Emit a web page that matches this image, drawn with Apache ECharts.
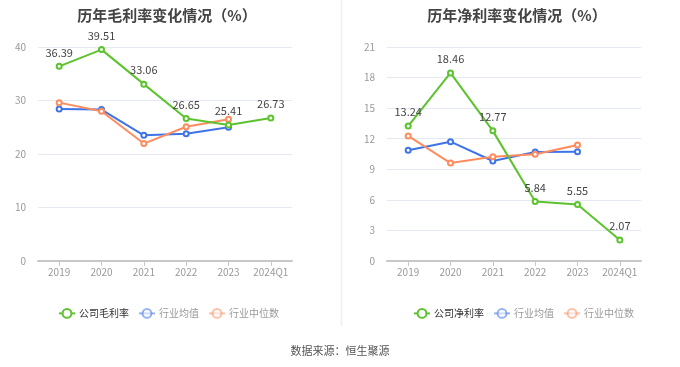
<!DOCTYPE html>
<html><head><meta charset="utf-8">
<script src="https://cdn.jsdelivr.net/npm/echarts@6/dist/echarts.min.js"></script>
<style>html,body{margin:0;padding:0;background:#fff}#c{width:680px;height:367px}</style>
</head><body><div id="c"></div>
<script>
const categories = ['2019','2020','2021','2022','2023','2024Q1'];
const grossCompany = [36.39, 39.51, 33.06, 26.65, 25.41, 26.73];
const grossIndustryAvg = [28.4, 28.3, 23.5, 23.8, 25.0, null];
const grossIndustryMedian = [29.6, 28.0, 21.95, 25.1, 26.5, null];
const netCompany = [13.24, 18.46, 12.77, 5.84, 5.55, 2.07];
const netIndustryAvg = [10.86, 11.71, 9.81, 10.70, 10.73, null];
const netIndustryMedian = [12.27, 9.61, 10.24, 10.47, 11.38, null];

const FONT = '"Noto Sans CJK SC", "Noto Sans", sans-serif';
const GREEN = '#5cc32e', BLUE = '#3f74e8', ORANGE = '#ff8c5e';

function xAxis(gi) {
  return {
    type: 'category', gridIndex: gi, data: categories, boundaryGap: true,
    axisLine: { lineStyle: { color: '#c8c8c8', width: 2 } },
    axisTick: { show: true, alignWithLabel: true, lineStyle: { color: '#c8c8c8' } },
    axisLabel: { color: '#999', fontSize: 10, fontFamily: FONT, margin: 6, interval: 0 }
  };
}
function yAxis(gi, max, interval) {
  return {
    type: 'value', gridIndex: gi, min: 0, max: max, interval: interval,
    axisLine: { show: false }, axisTick: { show: false },
    axisLabel: { color: '#999', fontSize: 10, fontFamily: FONT, margin: 12 },
    splitLine: { lineStyle: { color: '#e4e9f4' } }
  };
}
function series(name, data, color, gi, withLabel) {
  return {
    name: name, type: 'line', xAxisIndex: gi, yAxisIndex: gi, data: data,
    symbol: 'emptyCircle', symbolSize: 5, connectNulls: false,
    lineStyle: { color: color, width: 2 }, itemStyle: { color: color, borderWidth: 1.5 },
    label: withLabel ? { show: true, position: 'top', distance: 5, color: '#444', fontSize: 11, fontFamily: FONT } : { show: false },
    z: withLabel ? 3 : 2
  };
}
function legend(leftX, first) {
  return {
    left: leftX, top: 303, itemWidth: 16, itemHeight: 11, itemGap: 9,
    textStyle: { fontSize: 10, fontFamily: FONT, color: '#999', padding: [0, 0, 0, -1] },
    data: [
      { name: first, textStyle: { color: '#333' } },
      { name: '行业均值', itemStyle: { opacity: 0.55 }, lineStyle: { opacity: 0.55 } },
      { name: '行业中位数', itemStyle: { opacity: 0.55 }, lineStyle: { opacity: 0.55 } }
    ]
  };
}

const chart = echarts.init(document.getElementById('c'), null, { renderer: 'canvas' });
chart.setOption({
  animation: false,
  textStyle: { fontFamily: FONT },
  title: [
    { text: '历年毛利率变化情况（%）', left: 162, top: 3, textAlign: 'center',
      textStyle: { fontSize: 15, fontWeight: 'bold', color: '#444', fontFamily: FONT } },
    { text: '历年净利率变化情况（%）', left: 512, top: 3, textAlign: 'center',
      textStyle: { fontSize: 15, fontWeight: 'bold', color: '#444', fontFamily: FONT } }
  ],
  legend: [ legend(53, '公司毛利率'), legend(408, '公司净利率') ],
  grid: [
    { left: 38, right: 388, top: 47, bottom: 106 },
    { left: 387, right: 39, top: 47, bottom: 106 }
  ],
  xAxis: [ xAxis(0), xAxis(1) ],
  yAxis: [ yAxis(0, 40, 10), yAxis(1, 21, 3) ],
  series: [
    series('公司毛利率', grossCompany, GREEN, 0, true),
    series('行业均值', grossIndustryAvg, BLUE, 0, false),
    series('行业中位数', grossIndustryMedian, ORANGE, 0, false),
    series('公司净利率', netCompany, GREEN, 1, true),
    series('行业均值', netIndustryAvg, BLUE, 1, false),
    series('行业中位数', netIndustryMedian, ORANGE, 1, false)
  ],
  graphic: [
    { type: 'line', shape: { x1: 341.5, y1: 0, x2: 341.5, y2: 326 }, style: { stroke: '#f0f0f0', lineWidth: 1.5 } },
    { type: 'text', left: 'center', top: 345, style: { text: '数据来源：恒生聚源', fill: '#555', fontSize: 11, fontFamily: FONT } }
  ]
});
</script></body></html>
